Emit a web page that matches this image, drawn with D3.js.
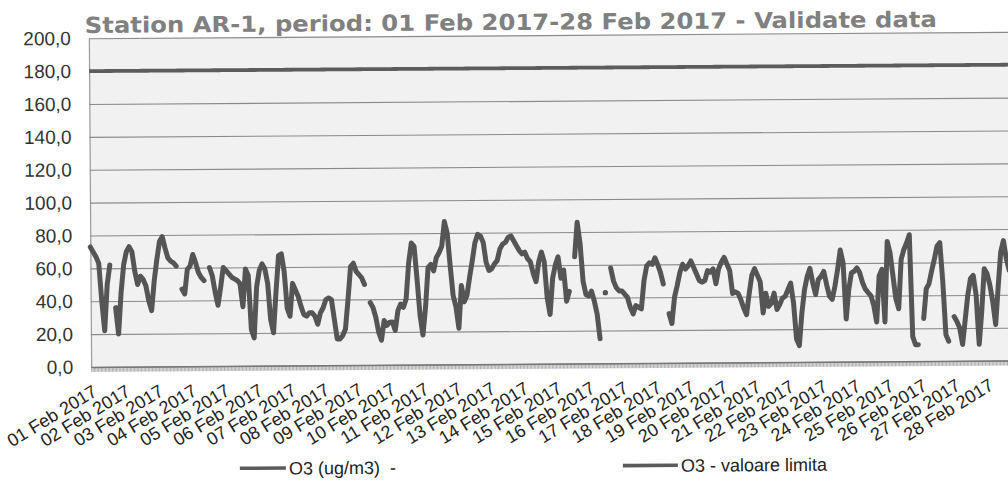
<!DOCTYPE html>
<html>
<head>
<meta charset="utf-8">
<script src="https://cdn.jsdelivr.net/npm/d3@7"></script>
<style>
  body { margin: 0; background: #ffffff; }
  svg { display: block; }
</style>
</head>
<body>
<div id="chart"></div>
<script>
const dayLabels = [
  "01 Feb 2017", "02 Feb 2017", "03 Feb 2017", "04 Feb 2017", "05 Feb 2017", "06 Feb 2017", "07 Feb 2017",
  "08 Feb 2017", "09 Feb 2017", "10 Feb 2017", "11 Feb 2017", "12 Feb 2017", "13 Feb 2017", "14 Feb 2017",
  "15 Feb 2017", "16 Feb 2017", "17 Feb 2017", "18 Feb 2017", "19 Feb 2017", "20 Feb 2017", "21 Feb 2017",
  "22 Feb 2017", "23 Feb 2017", "24 Feb 2017", "25 Feb 2017", "26 Feb 2017", "27 Feb 2017", "28 Feb 2017"
];
const yTicks = [0, 20, 40, 60, 80, 100, 120, 140, 160, 180, 200];
const limitValue = 180;
const slotsPerDay = 12; // one reading every 2 hours

// O3 (ug/m3), every 2 hours, null = no data
const o3 = [
  73, 70, 67, 63, 40, 22, 50, 62, null, 36, 20, 45,   // 01
  62, 70, 73, 70, 58, 50, 55, 53, 49, 40, 34, 52,     // 02
  65, 76, 79, 72, 66, 64, 63, 61, null, 47, 44, 59,   // 03
  61, 68, 63, 57, 54, 52, null, 60, 55, 45, 37, 48,   // 04
  60, 58, 56, 54, 53, 52, 50, 36, 59, 55, 22, 17,     // 05
  48, 58, 62, 59, 50, 28, 20, 45, 67, 68, 57, 35,     // 06
  30, 50, 46, 42, 36, 31, 30, 32, 32, 30, 25, 32,     // 07
  35, 40, 41, 40, 28, 16, 16, 18, 22, 40, 60, 62,     // 08
  57, 55, 53, 49, null, 38, 35, 29, 20, 15, 27, 24,   // 09
  26, 26, 21, 33, 37, 35, 40, 62, 74, 72, 52, 30,     // 10
  18, 35, 59, 61, 57, 65, 68, 72, 87, 80, 60, 42,     // 11
  35, 22, 48, 38, 42, 53, 63, 74, 79, 78, 74, 62,     // 12
  57, 58, 61, 63, 70, 73, 74, 77, 78, 75, 72, 69,     // 13
  67, 68, 64, 62, 55, 50, 62, 68, 62, 40, 30, 52,     // 14
  60, 65, 52, 57, 38, 44, null, 65, 86, 73, 50, 42,   // 15
  41, 44, 38, 30, 15, null, 43, null, 58, 50, 46, 44, // 16
  44, 42, 40, 34, 30, 35, 34, 33, 50, 59, 61, 60,     // 17
  64, 60, 55, 48, null, 30, 24, 40, 47, 55, 60, 57,   // 18
  59, 62, 58, 54, 50, 49, 50, 56, 55, 57, 48, 57,     // 19
  61, 64, 60, 56, 42, 43, 42, 38, 33, 29, 42, 53,     // 20
  57, 53, 49, 30, 42, 34, 36, 42, 32, 35, 39, 40,     // 21
  44, 48, 36, 14, 10, 30, 44, 52, 57, 48, 41, 50,     // 22
  52, 55, 47, 40, 38, 46, 56, 68, 60, 26, 44, 54,     // 23
  55, 57, 54, 48, 44, 42, 40, 34, 24, 52, 56, 24,     // 24
  73, 66, 52, 38, 32, 62, 68, 72, 77, 15, 10, 10,     // 25
  null, 26, 44, 47, 55, 62, 70, 72, 48, 16, 12, null, // 26
  27, 24, 20, 10, 25, 40, 50, 52, 40, 10, 30, 56,     // 27
  53, 46, 36, 22, 45, 66, 73, 62, 55, null, null, null // 28
];

const svgWidth = 1008;
const svgHeight = 484;
const plotLeft = 90;
const plotRight = 1019.7;
const plotTop = 35.4;
const plotBottom = 364.1;

const svg = d3.select("#chart").append("svg")
    .attr("width", svgWidth)
    .attr("height", svgHeight)
    .style("font-family", "'Liberation Sans', Arial, sans-serif");

// the scan is slightly tilted, so is everything here
const g = svg.append("g").attr("transform", "rotate(-0.4, 500, 200)");

const xScale = d3.scaleLinear().domain([0, o3.length]).range([plotLeft, plotRight]);
const yScale = d3.scaleLinear().domain([0, 200]).range([plotBottom, plotTop]);

g.append("rect")
    .attr("x", plotLeft)
    .attr("y", plotTop)
    .attr("width", plotRight - plotLeft)
    .attr("height", plotBottom - plotTop)
    .attr("fill", "#f1f1f1");

// y axis + grid
g.append("g")
    .attr("transform", "translate(" + plotLeft + ",0)")
    .call(d3.axisLeft(yScale)
        .tickValues(yTicks)
        .tickFormat(d => d3.format(".1f")(d).replace(".", ","))
        .tickSize(-(plotRight - plotLeft))
        .tickSizeOuter(0)
        .tickPadding(18))
    .call(ax => {
        ax.selectAll("line")
            .attr("stroke", "#8a8a8a")
            .attr("stroke-width", 1.1);
        ax.select(".domain")
            .attr("stroke", "#9a9a9a")
            .attr("stroke-width", 1.2);
        ax.selectAll("text")
            .attr("fill", "#333")
            .attr("font-size", "19px")
            .attr("font-family", "'Liberation Sans', Arial, sans-serif");
    });

// x axis: one tick per hour makes the dense band along the bottom
const hourTicks = d3.range(0, o3.length * 2 + 1).map(h => h / 2);
g.append("g")
    .attr("transform", "translate(0," + plotBottom + ")")
    .call(d3.axisBottom(xScale)
        .tickValues(hourTicks)
        .tickSize(5)
        .tickSizeOuter(0)
        .tickFormat(""))
    .call(ax => {
        ax.selectAll("line")
            .attr("stroke", "#7a7a7a")
            .attr("stroke-width", 0.6);
        ax.select(".domain")
            .attr("stroke", "#777")
            .attr("stroke-width", 1.5);
    });

g.append("g")
    .selectAll("text")
    .data(dayLabels)
    .enter()
    .append("text")
    .attr("text-anchor", "end")
    .attr("font-size", "18px")
    .attr("fill", "#222")
    .attr("transform", (d, i) => "translate(" + (xScale(i * slotsPerDay) + 7) + "," + (plotBottom + 28) + ") rotate(-31)")
    .text(d => d);

// limit line
const limitSeries = o3.map(() => limitValue);
g.append("path")
    .datum(limitSeries)
    .attr("fill", "none")
    .attr("stroke", "#5c5c5c")
    .attr("stroke-width", 3.8)
    .attr("d", d3.line()
        .x((d, i) => xScale(i))
        .y(d => yScale(d)));

// O3 series with gaps
const line = d3.line()
    .defined(d => d !== null)
    .x((d, i) => xScale(i))
    .y(d => yScale(d));

g.append("path")
    .datum(o3)
    .attr("fill", "none")
    .attr("stroke", "#555")
    .attr("stroke-width", 5)
    .attr("stroke-linejoin", "round")
    .attr("stroke-linecap", "round")
    .attr("d", line);

// lone readings between two gaps
const lone = o3.map((v, i) => ({ v, i }))
    .filter(p => p.v !== null && o3[p.i - 1] === null && o3[p.i + 1] === null);
g.append("g")
    .selectAll("circle")
    .data(lone)
    .enter()
    .append("circle")
    .attr("cx", d => xScale(d.i))
    .attr("cy", d => yScale(d.v))
    .attr("r", 2.6)
    .attr("fill", "#555");

// title
g.append("text")
    .attr("x", 86)
    .attr("y", 30)
    .attr("font-family", "'DejaVu Sans', Verdana, sans-serif")
    .attr("font-weight", "bold")
    .attr("font-size", "22px")
    .attr("fill", "#808080")
    .attr("textLength", 852)
    .attr("lengthAdjust", "spacingAndGlyphs")
    .text("Station AR-1, period: 01 Feb 2017-28 Feb 2017 - Validate data");

// legend
const legendItems = [
    { label: "O3 (ug/m3)  -", x1: 238, x2: 284 },
    { label: "O3 - valoare limita", x1: 621, x2: 676 }
];
const legend = g.append("g").selectAll("g").data(legendItems).enter().append("g");
legend.append("line")
    .attr("x1", d => d.x1)
    .attr("x2", d => d.x2)
    .attr("y1", 466.5)
    .attr("y2", 466.5)
    .attr("stroke", "#5a5a5a")
    .attr("stroke-width", 3.6);
legend.append("text")
    .attr("x", d => d.x2 + 3)
    .attr("y", 473)
    .attr("font-size", "18px")
    .attr("fill", "#222")
    .style("white-space", "pre")
    .text(d => d.label);
</script>
</body>
</html>
